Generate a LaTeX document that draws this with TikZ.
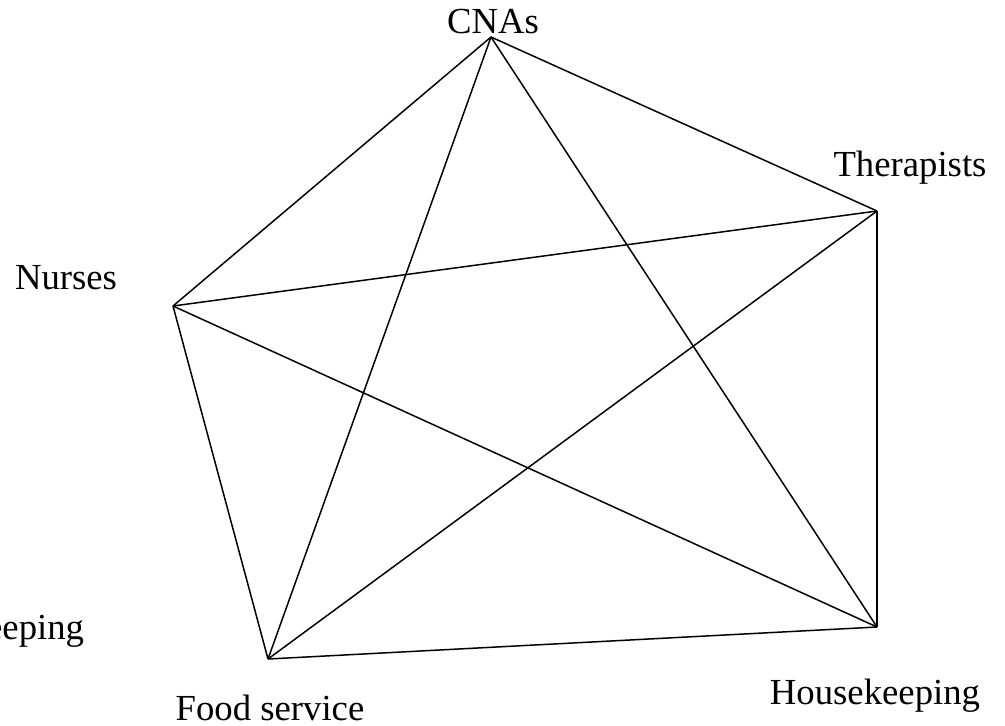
\documentclass[tikz,border=0pt]{standalone}
\usepackage{fontspec}
\setmainfont{Liberation Serif}

\tikzset{
  staff/.style={anchor=base, inner sep=0pt, font=\fontsize{20.9}{25}\selectfont},
  tie/.style={line width=0.85pt}
}

\begin{document}
\begin{tikzpicture}[x=0.02cm, y=-0.02cm]
          \useasboundingbox (0,0) rectangle (1005,725);

          \coordinate (cna) at (491,37);
          \coordinate (ther) at (877,211);
          \coordinate (nur) at (173,306);
          \coordinate (food) at (268,659);
          \coordinate (house) at (877,627);

          \node[staff] (cnalabel) at (493,33) {CNAs};
          \node[staff] (therlabel) at (910,176) {Therapists};
          \node[staff] (nurlabel) at (66,289) {Nurses};
          \node[staff] (foodlabel) at (270,720) {Food service};
          \node[staff] (houselabel) at (875,704) {Housekeeping};
          \node[staff] (houselabelb) at (-21,639) {Housekeeping};

          \draw[tie] (cna) -- (ther);
          \draw[tie] (cna) -- (nur);
          \draw[tie] (cna) -- (food);
          \draw[tie] (cna) -- (house);
          \draw[tie] (ther) -- (nur);
          \draw[tie] (ther) -- (food);
          \draw[tie] (ther) -- (house);
          \draw[tie] (nur) -- (food);
          \draw[tie] (nur) -- (house);
          \draw[tie] (food) -- (house);
    \end{tikzpicture}
\end{document}
